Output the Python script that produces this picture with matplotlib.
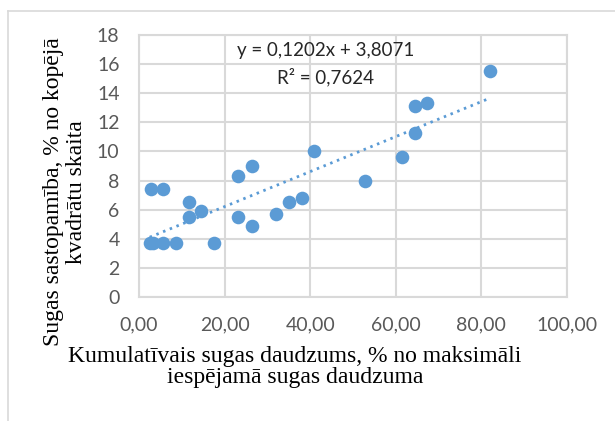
import matplotlib
matplotlib.use('Agg')
import matplotlib.pyplot as plt
from matplotlib.lines import Line2D

# cumulative abundance (% of max possible) vs occurrence (% of squares)
x_vals = [2.7, 5.7, 2.5, 3.2, 5.7, 8.6, 17.6, 11.7, 11.7, 14.6,
          23.2, 26.4, 23.2, 26.4, 32.1, 35.0, 38.1, 41.0, 52.8,
          61.4, 64.5, 64.5, 67.4, 82.0]
y_vals = [7.4, 7.4, 3.7, 3.7, 3.7, 3.7, 3.7, 6.5, 5.5, 5.9,
          8.3, 9.0, 5.5, 4.9, 5.7, 6.5, 6.8, 10.0, 8.0,
          9.65, 11.25, 13.1, 13.35, 15.55]

slope = 0.1202
intercept = 3.8071
r2 = 0.7624

x_ticks = [0, 20, 40, 60, 80, 100]
y_ticks = [0, 2, 4, 6, 8, 10, 12, 14, 16, 18]

blue = '#5B9BD5'
grid_col = '#D9D9D9'


def comma(v, nd):
    return ('%.*f' % (nd, v)).replace('.', ',')


fig = plt.figure(figsize=(6.15, 4.21), dpi=100)
ax = fig.add_axes([139/615, 1 - 297/421, 428/615, 262/421])

ax.plot(x_vals, y_vals, 'o', color=blue, markersize=9.8, markeredgewidth=0, zorder=3)

# linear trendline from the fitted coefficients
x0, x1 = min(x_vals), max(x_vals)
ax.plot([x0, x1], [slope * x0 + intercept, slope * x1 + intercept],
        color=blue, lw=2.0, linestyle=(0, (0.9, 1.7)), zorder=2)

ax.set_xlim(0, 100)
ax.set_ylim(0, 18)
ax.set_xticks(x_ticks)
ax.set_yticks(y_ticks)
ax.set_xticklabels([comma(v, 2) for v in x_ticks],
                   family='Lato', fontsize=14, color='#595959')
ax.set_yticklabels([str(v) for v in y_ticks],
                   family='Lato', fontsize=14, color='#595959')
ax.tick_params(axis='x', length=0, pad=14)
ax.tick_params(axis='y', length=0, pad=14)
ax.grid(True, color=grid_col, lw=1.5)
ax.set_axisbelow(True)
for s in ax.spines.values():
    s.set_color(grid_col)
    s.set_linewidth(1.5)

ax.text(43.6, 16.95, 'y = %sx + %s' % (comma(slope, 4), comma(intercept, 4)),
        family='Lato', fontsize=13.5, color='#262626', ha='center', va='center')
ax.text(43.6, 15.1, 'R² = ' + comma(r2, 4),
        family='Lato', fontsize=13.5, color='#262626', ha='center', va='center')

fig.text(295/615, 1 - 367/421,
         'Kumulatīvais sugas daudzums, % no maksimāli\niespējamā sugas daudzuma',
         family='Liberation Serif', fontsize=17, ha='center', va='center',
         linespacing=1.0)
fig.text(65/615, 1 - 192/421,
         'Sugas sastopamība, % no kopējā\nkvadrātu skaita',
         family='Liberation Serif', fontsize=17, ha='center', va='center',
         rotation=90, linespacing=1.1)

# outer chart frame (left and top edges)
fig.add_artist(Line2D([7.5/615, 7.5/615], [0, 1 - 10.5/421],
                      color=grid_col, lw=1.2, transform=fig.transFigure))
fig.add_artist(Line2D([7.5/615, 1], [1 - 10.5/421, 1 - 10.5/421],
                      color=grid_col, lw=1.2, transform=fig.transFigure))

fig.savefig('out.png', dpi=100, facecolor='white')
